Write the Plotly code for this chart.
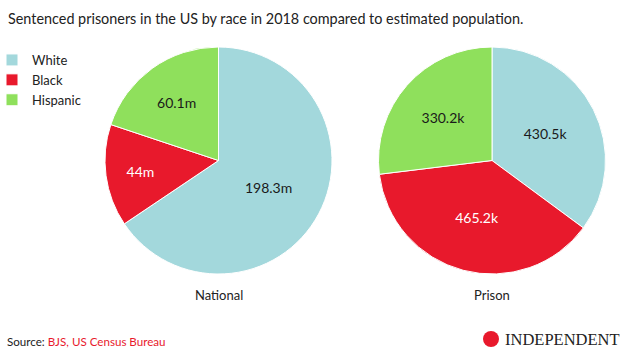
import plotly.graph_objects as go

categories = ["White", "Black", "Hispanic"]
national_values = [198.3, 44.0, 60.1]
national_text = ["198.3m", "44m", "60.1m"]
prison_values = [430.5, 465.2, 330.2]
prison_text = ["430.5k", "465.2k", "330.2k"]
colors = ["#a3d8dc", "#e8192c", "#8fe05c"]
text_colors = ["#1a1a1a", "#ffffff", "#1a1a1a"]

W, H = 631, 357

def dom(x0, x1, top, bottom):
    return dict(x=[x0 / W, x1 / W], y=[(H - bottom) / H, (H - top) / H])

fig = go.Figure()
fig.add_trace(go.Pie(
    labels=categories, values=national_values, text=national_text,
    textinfo="text", textposition="inside", sort=False, direction="clockwise",
    rotation=0, marker=dict(colors=colors, line=dict(color="white", width=1)),
    insidetextfont=dict(color=text_colors, size=14, family="Lato"),
    domain=dom(105, 332, 47, 274), showlegend=True, hoverinfo="label+text",
    insidetextorientation="horizontal",
))
fig.add_trace(go.Pie(
    labels=categories, values=prison_values, text=prison_text,
    textinfo="text", textposition="inside", sort=False, direction="clockwise",
    rotation=0, marker=dict(colors=colors, line=dict(color="white", width=1)),
    insidetextfont=dict(color=text_colors, size=14, family="Lato"),
    domain=dom(378, 606, 47, 274), showlegend=False, hoverinfo="label+text",
    insidetextorientation="horizontal",
))

fig.update_layout(
    width=W, height=H,
    margin=dict(l=0, r=0, t=0, b=0, autoexpand=False),
    paper_bgcolor="white",
    font=dict(family="Lato", color="#222222"),
    legend=dict(x=-8 / W, y=1 - 45 / H, xanchor="left", yanchor="top",
                font=dict(size=13, color="#222222"), itemwidth=30,
                tracegroupgap=0, bgcolor="rgba(0,0,0,0)"),
    annotations=[
        dict(text="Sentenced prisoners in the US by race in 2018 compared to estimated population.",
             x=6 / W, y=1 - 18 / H, xref="paper", yref="paper", xanchor="left", yanchor="middle",
             showarrow=False, font=dict(size=14.4, color="#222222", family="Lato")),
        dict(text="National", x=219 / W, y=1 - 295 / H, xref="paper", yref="paper",
             xanchor="center", yanchor="middle", showarrow=False, font=dict(size=13)),
        dict(text="Prison", x=492 / W, y=1 - 295 / H, xref="paper", yref="paper",
             xanchor="center", yanchor="middle", showarrow=False, font=dict(size=13)),
        dict(text="Source: <span style='color:#e8192c'>BJS, US Census Bureau</span>",
             x=5 / W, y=1 - 341 / H, xref="paper", yref="paper", xanchor="left", yanchor="middle",
             showarrow=False, font=dict(size=11.6, color="#222222")),
        dict(text="INDEPENDENT", x=622 / W, y=1 - 339 / H, xref="paper", yref="paper",
             xanchor="right", yanchor="middle", showarrow=False,
             font=dict(size=16.5, color="#222222", family="Liberation Serif")),
    ],
    shapes=[
        dict(type="circle", xref="paper", yref="paper",
             x0=483 / W, x1=499 / W, y0=1 - 347 / H, y1=1 - 331 / H,
             fillcolor="#e8192c", line=dict(width=0)),
    ],
)

fig.write_html("out.html", config={"displayModeBar": False},
               post_script="document.body.style.margin='0';document.body.style.overflow='hidden';")
